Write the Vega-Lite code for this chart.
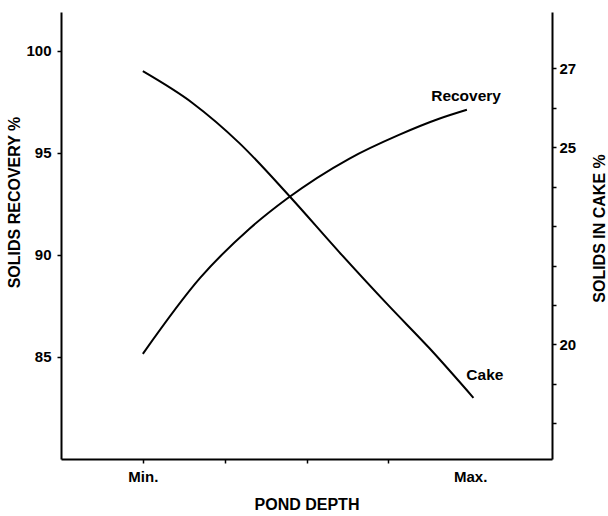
{
  "$schema": "https://vega.github.io/schema/vega-lite/v6.json",
  "width": 491,
  "height": 447,
  "autosize": "none",
  "padding": {"left": 61, "top": 12, "right": 56, "bottom": 57},
  "background": "white",
  "config": {
    "view": {"stroke": null},
    "font": "Liberation Sans",
    "axis": {
      "grid": false,
      "domainColor": "black",
      "domainWidth": 2,
      "tickColor": "black",
      "tickWidth": 1.5,
      "tickSize": 4,
      "labelColor": "black",
      "labelFont": "Liberation Sans",
      "labelFontWeight": "bold",
      "labelFontSize": 15,
      "titleColor": "black",
      "titleFont": "Liberation Sans",
      "titleFontWeight": "bold",
      "titleFontSize": 16
    }
  },
  "datasets": {
    "recovery": [
      {"depth": 0, "recovery": 85.15},
      {"depth": 0.7, "recovery": 88.87},
      {"depth": 1.3, "recovery": 91.27},
      {"depth": 1.76, "recovery": 92.75},
      {"depth": 2.52, "recovery": 94.71},
      {"depth": 3.13, "recovery": 95.88},
      {"depth": 3.62, "recovery": 96.67},
      {"depth": 3.96, "recovery": 97.11}
    ],
    "cake": [
      {"depth": 0, "cake": 26.92},
      {"depth": 0.61, "cake": 26.11},
      {"depth": 1.18, "cake": 25.1},
      {"depth": 1.79, "cake": 23.76},
      {"depth": 2.4, "cake": 22.34},
      {"depth": 3.01, "cake": 20.97},
      {"depth": 3.5, "cake": 19.91},
      {"depth": 4.04, "cake": 18.65}
    ],
    "recoveryLabel": [{"depth": 3.95, "recovery": 97.8, "label": "Recovery"}],
    "cakeLabel": [{"depth": 4.18, "cake": 19.23, "label": "Cake"}]
  },
  "layer": [
    {
      "layer": [
        {
          "data": {"name": "recovery"},
          "mark": {"type": "line", "color": "black", "strokeWidth": 2, "interpolate": "monotone"},
          "encoding": {
            "x": {
              "field": "depth", "type": "quantitative",
              "scale": {"domain": [-1, 5], "nice": false, "zero": false},
              "axis": {
                "title": "POND DEPTH",
                "values": [0, 1, 2, 3, 4],
                "labelExpr": "datum.value == 0 ? 'Min.' : (datum.value == 4 ? 'Max.' : '')",
                "labelPadding": 6,
                "titlePadding": 12,
                "tickOpacity": {"condition": {"test": "datum.value == 4", "value": 0}, "value": 1}
              }
            },
            "y": {
              "field": "recovery", "type": "quantitative",
              "scale": {"domain": [80, 101.9], "nice": false, "zero": false},
              "axis": {
                "title": "SOLIDS RECOVERY %",
                "orient": "left",
                "values": [85, 90, 95, 100],
                "labelPadding": 6,
                "titlePadding": 3,
                "titleY": 190
              }
            }
          }
        },
        {
          "data": {"name": "recoveryLabel"},
          "mark": {"type": "text", "color": "black", "font": "Liberation Sans", "fontWeight": "bold", "fontSize": 15.5, "align": "center", "baseline": "middle"},
          "encoding": {
            "x": {"field": "depth", "type": "quantitative"},
            "y": {"field": "recovery", "type": "quantitative"},
            "text": {"field": "label"}
          }
        }
      ]
    },
    {
      "layer": [
        {
          "data": {"name": "cake"},
          "mark": {"type": "line", "color": "black", "strokeWidth": 2, "interpolate": "monotone"},
          "encoding": {
            "x": {"field": "depth", "type": "quantitative"},
            "y": {
              "field": "cake", "type": "quantitative",
              "scale": {"domain": [17.1, 28.42], "nice": false, "zero": false},
              "axis": {
                "title": "SOLIDS IN CAKE %",
                "orient": "right",
                "values": [18, 19, 20, 21, 22, 23, 24, 25, 26, 27],
                "labelExpr": "(datum.value == 20 || datum.value == 25 || datum.value == 27) ? datum.label : ''",
                "labelPadding": 3,
                "titleAngle": 270,
                "titlePadding": 32,
                "titleY": 216
              }
            }
          }
        },
        {
          "data": {"name": "cakeLabel"},
          "mark": {"type": "text", "color": "black", "font": "Liberation Sans", "fontWeight": "bold", "fontSize": 15.5, "align": "center", "baseline": "middle"},
          "encoding": {
            "x": {"field": "depth", "type": "quantitative"},
            "y": {"field": "cake", "type": "quantitative"},
            "text": {"field": "label"}
          }
        }
      ]
    }
  ],
  "resolve": {"scale": {"y": "independent"}}
}
